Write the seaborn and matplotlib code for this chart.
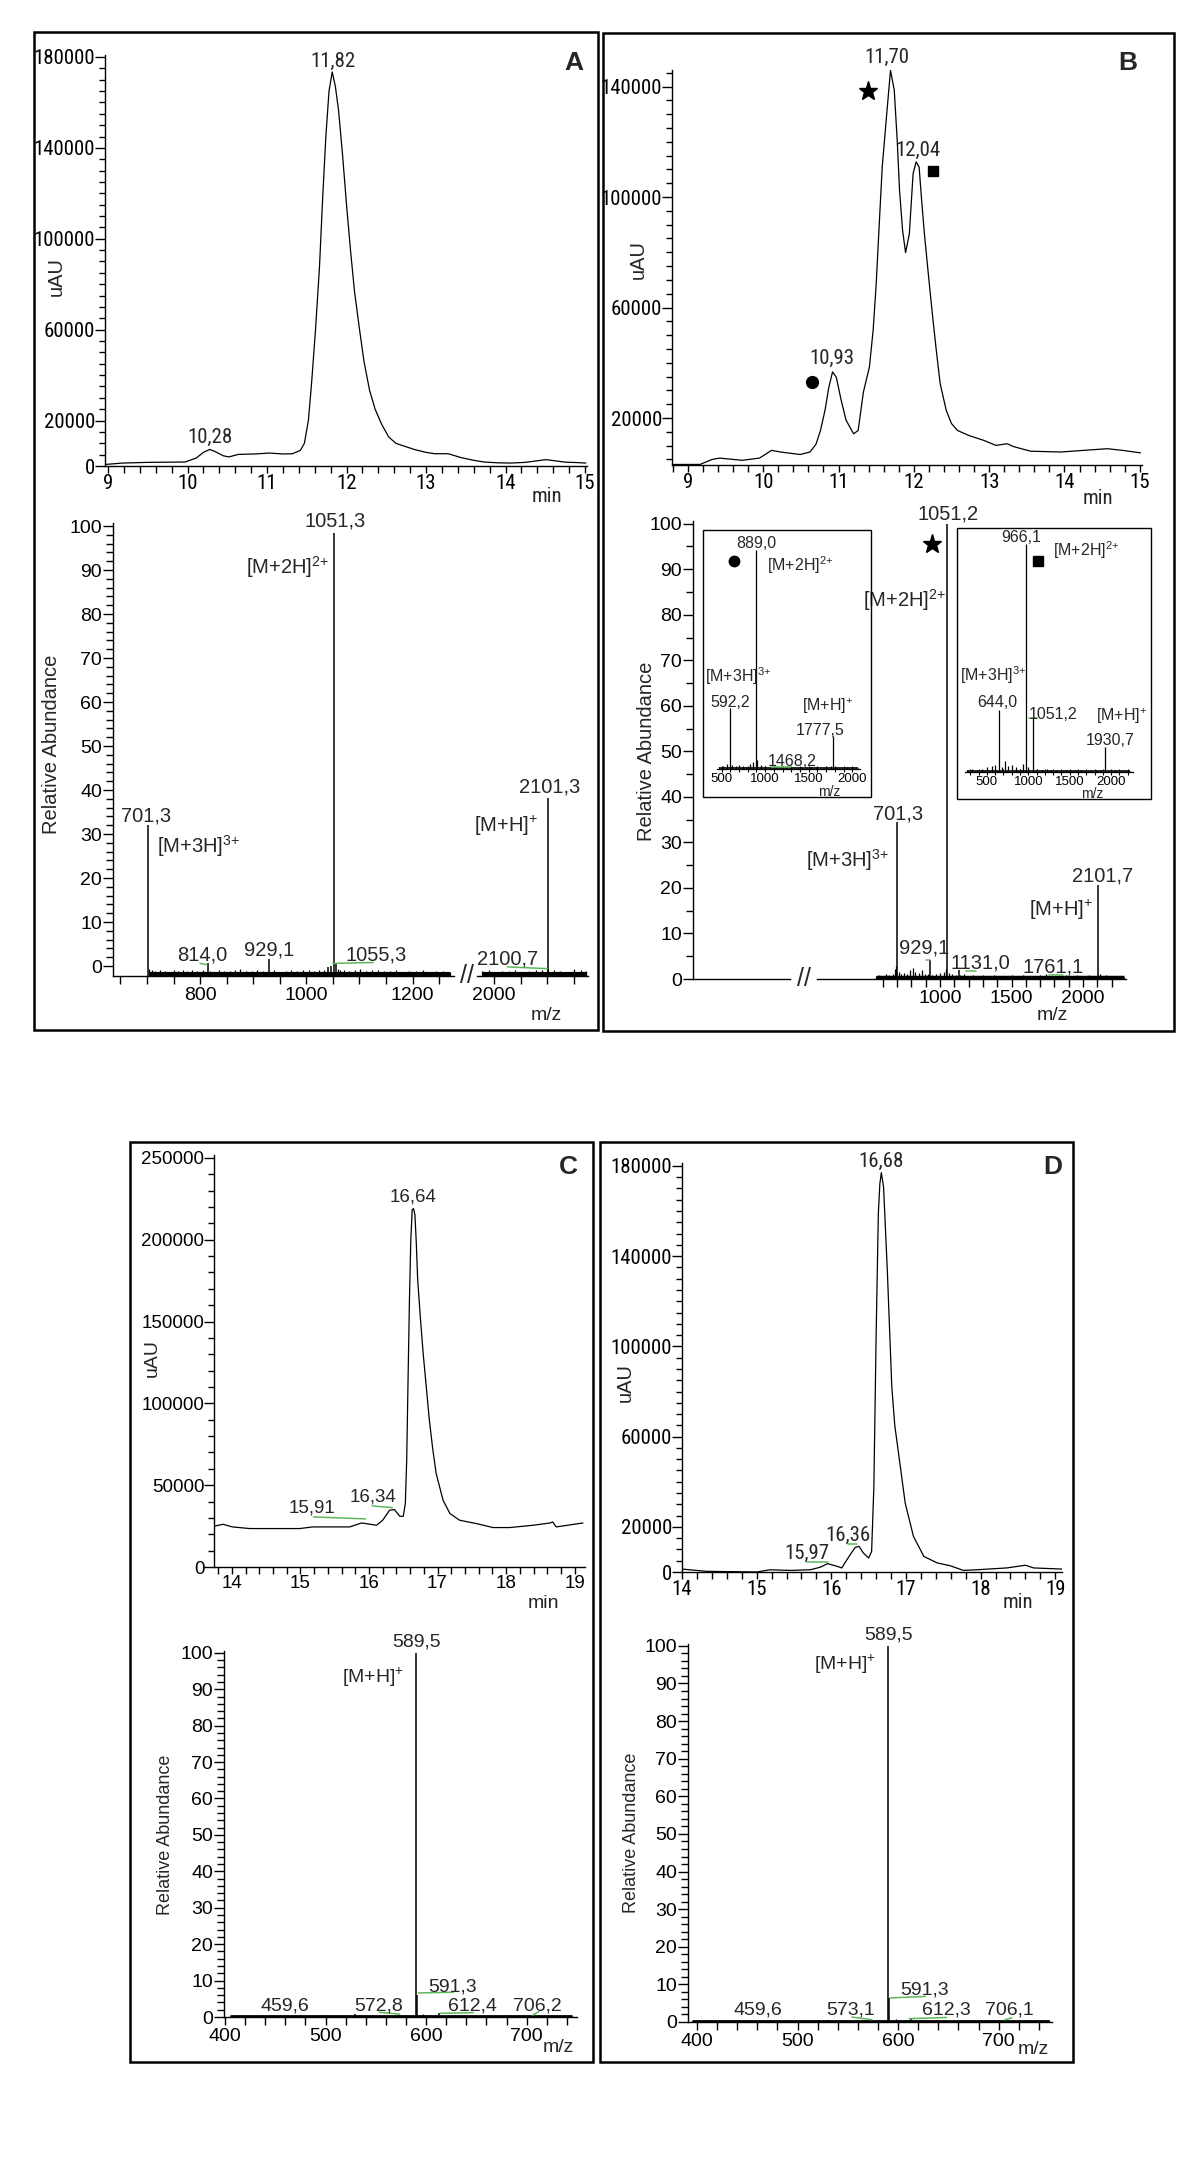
import matplotlib
matplotlib.use("Agg")
import matplotlib.pyplot as plt
from matplotlib.patches import Rectangle
from matplotlib.ticker import MultipleLocator, FixedLocator
import seaborn as sns

sns.set_style("ticks")
plt.rcParams["font.family"] = ["Liberation Sans", "DejaVu Sans"]
plt.rcParams["mathtext.default"] = "regular"
plt.rcParams["axes.linewidth"] = 1.0
plt.rcParams["axes.edgecolor"] = "black"
plt.rcParams["xtick.color"] = "black"
plt.rcParams["ytick.color"] = "black"

# narrow face for the chromatogram texts; first installed one wins
NARROW = ["Liberation Sans Narrow", "Roboto Condensed", "Noto Sans Condensed",
          "Open Sans Condensed", "DejaVu Sans Condensed", "Liberation Sans"]
REGULAR = ["Liberation Sans", "DejaVu Sans"]
GREEN = "#5cb85c"
W, H = 1200, 2159

# ion labels
M2H = "[M+2H]$^{2{+}}$"
M3H = "[M+3H]$^{3{+}}$"
MH = "[M+H]$^{{+}}$"

# ---------------- chromatograms (min, uAU) ----------------
a_time = [8.98, 9.19, 9.50, 9.97, 10.11, 10.20, 10.28, 10.35, 10.45, 10.52,
          10.64, 10.85, 11.03, 11.20, 11.32, 11.42, 11.47, 11.52, 11.56, 11.61,
          11.66, 11.70, 11.74, 11.78, 11.82, 11.86, 11.90, 11.95, 12.00, 12.05,
          12.10, 12.16, 12.22, 12.29, 12.36, 12.44, 12.53, 12.62, 12.72, 12.86,
          13.00, 13.11, 13.28, 13.44, 13.60, 13.73, 13.90, 14.07, 14.25, 14.40,
          14.51, 14.62, 14.75, 14.90, 15.01]
a_signal = [730, 1300, 1600, 1760, 3500, 6000, 7300, 6300, 4500, 4000,
            5100, 5300, 5700, 5300, 5400, 6900, 10000, 20000, 36200, 60000,
            87600, 118000, 145000, 165000, 173400, 167000, 156500, 137000, 115000, 95000,
            77000, 61000, 46000, 33300, 25000, 18500, 12800, 10000, 8800, 7200,
            6000, 5400, 5400, 3700, 2500, 1760, 1400, 1300, 1600, 2300,
            2800, 2300, 1700, 1500, 1300]

b_time = [8.80, 9.16, 9.32, 9.42, 9.72, 9.95, 10.11, 10.23, 10.49, 10.62,
          10.70, 10.76, 10.82, 10.87, 10.92, 10.97, 11.03, 11.10, 11.20, 11.26,
          11.33, 11.41, 11.46, 11.50, 11.54, 11.58, 11.64, 11.69, 11.74, 11.78,
          11.81, 11.85, 11.89, 11.94, 11.99, 12.03, 12.07, 12.10, 12.14, 12.20,
          12.25, 12.30, 12.35, 12.43, 12.50, 12.58, 12.73, 12.93, 13.09, 13.24,
          13.32, 13.55, 13.95, 14.36, 14.57, 14.77, 15.01]
b_signal = [3200, 3200, 5000, 5500, 4700, 5500, 8300, 7700, 6800, 7700,
            10500, 15500, 22800, 31000, 36700, 34800, 27000, 19200, 14300, 15500,
            29400, 38500, 52000, 68600, 90000, 110900, 130200, 145900, 138700, 120000,
            102400, 88000, 79900, 86700, 108500, 112700, 110900, 100000, 86700, 70000,
            56600, 44000, 32400, 22800, 18000, 15500, 13700, 11900, 10100, 10700,
            9700, 8000, 7700, 8500, 8900, 8300, 7400]

c_time = [13.74, 13.87, 14.01, 14.26, 14.99, 15.18, 15.72, 15.89, 15.96, 16.11,
          16.20, 16.30, 16.37, 16.45, 16.50, 16.53, 16.55, 16.57, 16.59, 16.61,
          16.63, 16.65, 16.67, 16.69, 16.71, 16.75, 16.79, 16.84, 16.88, 16.93,
          16.98, 17.08, 17.18, 17.32, 17.57, 17.81, 18.05, 18.39, 18.64, 18.68,
          18.73, 19.12]
c_signal = [24900, 26100, 24500, 23500, 23500, 24500, 24500, 26900, 26500, 25500,
            28600, 34700, 35100, 31000, 31000, 38800, 65300, 115000, 163300, 200000,
            218400, 219000, 215300, 198000, 175500, 152000, 130600, 108000, 89800, 72000,
            57100, 40800, 32700, 28600, 26500, 24100, 24100, 25500, 26900, 27500,
            24500, 26900]

d_time = [14.00, 14.33, 15.00, 15.18, 15.45, 15.72, 15.85, 15.95, 16.08, 16.14,
          16.21, 16.27, 16.32, 16.37, 16.43, 16.50, 16.54, 16.57, 16.60, 16.63,
          16.65, 16.67, 16.70, 16.75, 16.81, 16.85, 16.90, 16.99, 17.10, 17.24,
          17.42, 17.59, 17.77, 17.95, 18.35, 18.60, 18.71, 19.09]
d_signal = [1300, 300, 0, 1000, 700, 1000, 2100, 3700, 2500, 1800,
            5500, 8500, 10900, 11400, 8400, 6200, 9100, 37900, 104300, 158900,
            172000, 177000, 170600, 133800, 82200, 65000, 52700, 30500, 15800, 6900,
            4000, 2800, 700, 1000, 1800, 3000, 1800, 1300]

# ---------------- mass spectra (m/z, relative abundance) ----------------
a_peak_mz = [701.3, 814.0, 929.1, 1040.0, 1046.0, 1051.3, 1055.3, 2100.7, 2101.3]
a_peak_h = [32.0, 0.7, 1.6, -0.2, 0.0, 98.4, 0.5, -0.6, 38.2]
a_noise_mz = [704, 709, 716, 724, 733, 741, 750, 758, 767, 776,
              785, 794, 806, 818, 826, 836, 845, 856, 866, 876,
              887, 898, 908, 918, 940, 950, 961, 972, 983, 994,
              1005, 1014, 1024, 1033, 1060, 1063, 1071, 1080, 1092, 1101,
              1112, 1123, 1134, 1146, 1158, 1169, 1180, 1193, 1206, 1219,
              1232, 1245, 1258, 1270,
              1978, 1990, 2003, 2015, 2028, 2040, 2053, 2066, 2078, 2090,
              2112, 2124, 2137, 2150, 2162, 2172]
a_noise_h = [-0.6, -1.0, -1.2, -0.9, -1.1, -1.3, -1.0, -1.2, -0.8, -1.1,
             -1.0, -1.2, -0.9, -1.1, -1.3, -0.8, -1.1, -1.2, -1.0, -0.7,
             -1.1, -1.2, -0.9, -1.1, -1.0, -1.3, -1.1, -0.9, -1.2, -1.0,
             -0.8, -1.2, -1.0, -0.9, -0.6, -1.0, -0.8, -1.1, -0.9, -0.7,
             -1.2, -1.0, -0.8, -1.1, -1.2, -1.0, -1.3, -1.1, -1.2, -1.0,
             -1.3, -1.1, -1.2, -1.3,
             -1.2, -1.0, -1.3, -1.1, -1.2, -1.0, -1.3, -1.1, -0.9, -1.0,
             -0.8, -1.1, -1.3, -0.7, -1.0, -1.2]

b_peak_mz = [701.3, 929.1, 1051.2, 1131.0, 1761.1, 2101.7]
b_peak_h = [34.4, 4.2, 100.0, 1.9, 0.7, 20.7]
b_noise_mz = [552, 575, 598, 620, 645, 668, 688, 695, 712, 730,
              748, 770, 790, 812, 826, 850, 872, 898, 915, 945,
              975, 1000, 1030, 1042, 1060, 1085, 1110, 1140, 1165, 1195,
              1230, 1265, 1300, 1340, 1380, 1420, 1460, 1500, 1540, 1580,
              1620, 1660, 1700, 1740, 1800, 1840, 1880, 1920, 1960, 2000,
              2040, 2080, 2120, 2160, 2200, 2240, 2285]
b_noise_h = [0.6, 0.9, 0.7, 1.0, 0.8, 1.2, 2.3, 2.8, 1.6, 1.1,
             1.4, 1.0, 2.0, 2.4, 1.5, 1.3, 1.9, 1.2, 1.0, 0.9,
             1.1, 1.3, 1.6, 2.2, 1.4, 1.0, 0.8, 0.9, 1.1, 0.7,
             0.8, 0.6, 0.9, 0.7, 0.8, 0.6, 0.7, 0.9, 0.6, 0.8,
             0.7, 0.6, 0.8, 1.0, 0.7, 0.6, 0.8, 0.7, 0.9, 0.6,
             0.8, 0.7, 1.2, 0.8, 0.6, 0.7, 0.5]

ins1_peak_mz = [592.2, 889.0, 1468.2, 1777.5]
ins1_peak_h = [28.0, 100.0, 0.8, 15.0]
ins1_noise_mz = [470, 520, 560, 620, 660, 700, 740, 780, 820, 860,
                 910, 950, 1000, 1060, 1120, 1180, 1240, 1300, 1360, 1420,
                 1520, 1580, 1640, 1700, 1760, 1820, 1880, 1940, 2000, 2060]
ins1_noise_h = [1.0, 1.5, 2.5, 1.8, 1.2, 2.0, 1.5, 1.0, 2.2, 3.0,
                4.0, 2.0, 1.2, 1.0, 0.8, 1.0, 0.7, 0.8, 0.6, 0.9,
                0.7, 0.8, 0.6, 0.7, 1.5, 1.0, 0.6, 0.7, 0.5, 0.6]

ins2_peak_mz = [644.0, 966.1, 1051.2, 1930.7]
ins2_peak_h = [27.0, 100.0, 24.0, 11.0]
ins2_noise_mz = [260, 320, 380, 440, 500, 560, 600, 680, 720, 760,
                 800, 850, 900, 940, 1000, 1100, 1160, 1220, 1280, 1340,
                 1400, 1460, 1520, 1580, 1640, 1700, 1760, 1820, 1880, 1990,
                 2050, 2110, 2170, 2230]
ins2_noise_h = [0.8, 1.2, 1.0, 1.5, 2.0, 2.5, 3.0, 2.2, 5.0, 2.5,
                3.0, 2.0, 1.5, 3.5, 2.0, 1.5, 1.0, 1.2, 0.8, 1.0,
                0.7, 0.9, 0.6, 0.8, 0.7, 0.6, 0.8, 0.7, 0.9, 0.6,
                0.7, 0.5, 0.6, 0.5]

c_peak_mz = [459.6, 529.0, 572.8, 589.5, 591.3, 612.4, 706.2]
c_peak_h = [0.3, 0.8, 0.5, 100.0, 6.1, 1.2, 0.3]
c_noise_mz = [405, 418, 432, 447, 470, 485, 500, 515, 540, 555,
              565, 580, 597, 605, 620, 635, 650, 665, 680, 695,
              715, 730, 745]
c_noise_h = [0.4, 0.3, 0.5, 0.3, 0.4, 0.3, 0.5, 0.4, 0.3, 0.4,
             0.5, 0.6, 0.8, 0.5, 0.4, 0.5, 0.3, 0.4, 0.5, 0.3,
             0.4, 0.5, 0.3]

d_peak_mz = [459.6, 530.0, 573.1, 589.5, 591.3, 612.3, 706.1]
d_peak_h = [0.3, 0.6, 0.8, 100.0, 6.4, 1.0, 0.3]
d_noise_mz = [395, 410, 425, 440, 455, 470, 488, 505, 520, 538,
              552, 565, 580, 598, 608, 622, 638, 655, 670, 688,
              700, 720, 735, 750]
d_noise_h = [0.3, 0.4, 0.3, 0.5, 0.3, 0.4, 0.3, 0.5, 0.4, 0.3,
             0.4, 0.6, 0.5, 0.9, 0.6, 0.4, 0.5, 0.3, 0.4, 0.3,
             0.5, 0.4, 0.3, 0.4]

fig = plt.figure(figsize=(12, 21.59), dpi=100)


def add_ax(x0, y0, x1, y1):
    ax = fig.add_axes([x0 / W, 1 - y1 / H, (x1 - x0) / W, (y1 - y0) / H])
    ax.patch.set_visible(False)
    return ax


def fig_text(x, y, s, **kw):
    kw.setdefault("ha", "center")
    kw.setdefault("va", "center")
    fig.text(x / W, 1 - y / H, s, **kw)


def frame(x0, y0, x1, y1, lw=1.8):
    fig.add_artist(Rectangle((x0 / W, 1 - y1 / H), (x1 - x0) / W, (y1 - y0) / H,
                             transform=fig.transFigure, fill=False, lw=lw,
                             edgecolor="black"))


def label(ax, x, y, s, font=REGULAR, fs=14.5, ha="center"):
    ax.text(x, y, s, ha=ha, va="center", fontfamily=font, fontsize=fs,
            fontstretch="condensed" if font is NARROW else "normal", clip_on=False)


def green(ax, x0, x1, y0, y1):
    ax.plot([x0, x1], [y0, y1], color=GREEN, lw=1.1, clip_on=False)


def set_labels(ax, font, fs):
    for lab in ax.get_xticklabels() + ax.get_yticklabels():
        lab.set_fontfamily(font)
        lab.set_fontsize(fs)
        if font is NARROW:
            lab.set_fontstretch("condensed")


def chromatogram(box, t, s, xlim, ylim, yticks, yminor, font, fs):
    ax = add_ax(*box)
    sns.lineplot(x=t, y=s, ax=ax, color="black", linewidth=0.9, estimator=None)
    ax.set_xlim(xlim)
    ax.set_ylim(ylim)
    sns.despine(ax=ax)
    xt = [v for v in range(9, 20) if xlim[0] - 0.01 <= v <= xlim[1] + 0.01]
    ax.xaxis.set_major_locator(FixedLocator(xt))
    ax.set_xticklabels([str(v) for v in xt])
    ax.yaxis.set_major_locator(FixedLocator(yticks))
    ax.set_yticklabels([str(v) for v in yticks])
    ax.xaxis.set_minor_locator(MultipleLocator(0.2))
    ax.yaxis.set_minor_locator(MultipleLocator(yminor))
    ax.tick_params(axis="x", which="both", direction="out", length=5, width=1, pad=1)
    ax.tick_params(axis="y", which="major", direction="out", length=7, width=1, pad=0)
    ax.tick_params(axis="y", which="minor", direction="out", length=4, width=1)
    ax.set_xlabel("")
    ax.set_ylabel("")
    set_labels(ax, font, fs)
    return ax


def spectrum(ax, peak_mz, peak_h, noise_mz, noise_h, base, band_y, band_lw, lw=1.1):
    lo, hi = ax.get_xlim()
    ax.vlines(noise_mz, base, noise_h, color="black", lw=0.9)
    ax.vlines(peak_mz, base, peak_h, color="black", lw=lw)
    inside = [m for m in noise_mz if lo <= m <= hi]
    if inside:
        ax.hlines(band_y, min(inside), max(inside), color="black", lw=band_lw)


def ms_yaxis(ax, ylim, minor):
    ax.set_ylim(ylim)
    ax.yaxis.set_major_locator(FixedLocator(list(range(0, 101, 10))))
    ax.set_yticklabels([str(v) for v in range(0, 101, 10)])
    ax.yaxis.set_minor_locator(FixedLocator([v for v in range(minor, 100, minor) if v % 10]))
    ax.tick_params(axis="y", which="major", direction="out", length=7, width=1, pad=1)
    ax.tick_params(axis="y", which="minor", direction="out", length=5, width=1)


def ms_xaxis(ax, ticks, labelled, minor=None):
    ax.xaxis.set_major_locator(FixedLocator(ticks))
    ax.set_xticklabels([str(v) if v in labelled else "" for v in ticks])
    if minor is not None:
        ax.xaxis.set_minor_locator(MultipleLocator(minor))
    ax.tick_params(axis="x", which="both", direction="out", length=6, width=1, pad=2)


# ======================= PANEL A =======================
frame(34, 32, 598, 1030)
ax = chromatogram((105, 55, 587, 466), a_time, a_signal, (8.962, 15.025), (0, 180880),
                  [0, 20000, 60000, 100000, 140000, 180000], 5000, NARROW, 15)
label(ax, 11.83, 178200, "11,82", NARROW, 15)
label(ax, 10.28, 12760, "10,28", NARROW, 15)
fig_text(574, 63, "A", fontsize=19, fontweight="bold")
fig_text(56, 277, "uAU", fontsize=14.5, rotation=90)
fig_text(547, 497, "min", fontsize=15, fontfamily=NARROW, fontstretch="condensed")

ax_l = add_ax(113, 523, 454, 976)
ax_l.set_xlim(636, 1278)
ms_yaxis(ax_l, (-2.27, 100.7), 2)
spectrum(ax_l, a_peak_mz, a_peak_h, a_noise_mz, a_noise_h, -2.27, -1.8, 3)
sns.despine(ax=ax_l)
ms_xaxis(ax_l, list(range(650, 1251, 50)), (800, 1000, 1200))
set_labels(ax_l, REGULAR, 14)
label(ax_l, 1055, 101.1, "1051,3")
label(ax_l, 1043, 90.6, M2H, ha="right")
label(ax_l, 698, 34.1, "701,3")
label(ax_l, 719, 27.3, M3H, ha="left")
label(ax_l, 804, 2.6, "814,0")
label(ax_l, 929, 3.6, "929,1")
label(ax_l, 1131, 2.6, "1055,3")
green(ax_l, 800, 813, 0.6, 0.3)
green(ax_l, 1050, 1126, 0.6, 0.8)

ax_r = add_ax(477, 523, 588, 976)
ax_r.set_xlim(1968, 2176)
ax_r.set_ylim(-2.27, 100.7)
spectrum(ax_r, a_peak_mz, a_peak_h, a_noise_mz, a_noise_h, -2.27, -1.8, 3)
sns.despine(ax=ax_r, left=True)
ax_r.set_yticks([])
ms_xaxis(ax_r, [2000, 2050, 2100, 2150], (2000,))
set_labels(ax_r, REGULAR, 14)
label(ax_r, 2104, 40.7, "2101,3")
label(ax_r, 2083, 31.8, MH, ha="right")
label(ax_r, 2026, 1.6, "2100,7")
green(ax_r, 2025, 2100, -0.2, -0.6)
fig_text(467, 976, "//", fontsize=18)
fig_text(546, 1016, "m/z", fontsize=14)
fig_text(52, 744, "Relative Abundance", fontsize=14.5, rotation=90)

# ======================= PANEL B =======================
frame(603, 33, 1174, 1031)
ax = chromatogram((672, 70, 1142, 465), b_time, b_signal, (8.788, 15.03), (3000, 146000),
                  [20000, 60000, 100000, 140000], 5000, NARROW, 15)
label(ax, 11.64, 150700, "11,70", NARROW, 15)
label(ax, 12.05, 117000, "12,04", NARROW, 15)
label(ax, 10.91, 41700, "10,93", NARROW, 15)
ax.plot(11.39, 138400, marker="*", color="black", ms=14, ls="none", clip_on=False)
ax.plot(12.25, 109400, marker="s", color="black", ms=7.5, ls="none", clip_on=False)
ax.plot(10.65, 33000, marker="o", color="black", ms=8.5, ls="none", clip_on=False)
fig_text(1128, 63, "B", fontsize=19, fontweight="bold")
fig_text(638, 260, "uAU", fontsize=14.5, rotation=90)
fig_text(1098, 498, "min", fontsize=15, fontfamily=NARROW, fontstretch="condensed")

ax_l = add_ax(693, 521, 790, 979)
ax_l.set_xlim(0, 1)
ms_yaxis(ax_l, (0, 100.6), 5)
sns.despine(ax=ax_l)
ax_l.set_xticks([])
set_labels(ax_l, REGULAR, 14)

ax_r = add_ax(817, 521, 1126, 979)
ax_r.set_xlim(140, 2300)
ax_r.set_ylim(0, 100.6)
spectrum(ax_r, b_peak_mz, b_peak_h, b_noise_mz, b_noise_h, 0, 0.4, 2.5)
sns.despine(ax=ax_r, left=True)
ax_r.set_yticks([])
ms_xaxis(ax_r, list(range(600, 2201, 100)), (1000, 1500, 2000))
set_labels(ax_r, REGULAR, 14)
label(ax_r, 1056, 102.2, "1051,2")
ax_r.plot(944, 95.6, marker="*", color="black", ms=14, ls="none", clip_on=False)
label(ax_r, 1042, 83.3, M2H, ha="right")
label(ax_r, 706, 36.3, "701,3")
label(ax_r, 643, 26.2, M3H, ha="right")
label(ax_r, 888, 6.8, "929,1")
label(ax_r, 1280, 3.6, "1131,0")
label(ax_r, 1793, 2.6, "1761,1")
label(ax_r, 2133, 22.6, "2101,7")
label(ax_r, 2070, 15.2, MH, ha="right")
green(ax_r, 905, 930, 4.1, 4.1)
green(ax_r, 1180, 1250, 1.8, 1.8)
green(ax_r, 1760, 1860, 0.9, 0.9)
fig_text(804, 979, "//", fontsize=18)
fig_text(1052, 1016, "m/z", fontsize=14)
fig_text(646, 751, "Relative Abundance", fontsize=14.5, rotation=90)

# insets of panel B
for box in [(703, 530, 871, 797), (957, 528, 1151, 799)]:
    frame(*box, lw=1.0)


def inset(box, xlim, peak_mz, peak_h, noise_mz, noise_h):
    ax = add_ax(*box)
    ax.set_xlim(xlim)
    ax.set_ylim(0, 103)
    spectrum(ax, peak_mz, peak_h, noise_mz, noise_h, 0, 0.5, 1.2, lw=0.9)
    sns.despine(ax=ax, left=True)
    ax.set_yticks([])
    ax.xaxis.set_major_locator(FixedLocator([500, 1000, 1500, 2000]))
    ax.set_xticklabels(["500", "1000", "1500", "2000"])
    ax.xaxis.set_minor_locator(MultipleLocator(100))
    ax.tick_params(axis="x", which="both", direction="inout", length=4, width=0.8, pad=1)
    ax.spines["bottom"].set_linewidth(0.9)
    set_labels(ax, REGULAR, 9.5)
    return ax


ax = inset((717, 543, 860, 769), (447, 2088), ins1_peak_mz, ins1_peak_h, ins1_noise_mz, ins1_noise_h)
label(ax, 895, 102.7, "889,0", fs=11.5)
ax.plot(642, 95, marker="o", color="black", ms=7.5, ls="none", clip_on=False)
label(ax, 1021, 92.7, M2H, fs=11.5, ha="left")
label(ax, 309, 42.5, M3H, fs=11.5, ha="left")
label(ax, 596, 30.1, "592,2", fs=11.5)
label(ax, 1711, 28.8, MH, fs=11.5)
label(ax, 1631, 17.4, "1777,5", fs=11.5)
label(ax, 1308, 3.6, "1468,2", fs=11.5)
green(ax, 1070, 1300, 1.0, 1.0)
fig_text(829, 792, "m/z", fontsize=10)

ax = inset((965, 537, 1133, 772), (235, 2265), ins2_peak_mz, ins2_peak_h, ins2_noise_mz, ins2_noise_h)
label(ax, 911, 102.6, "966,1", fs=11.5)
ax.plot(1117, 92.5, marker="s", color="black", ms=7.5, ls="none", clip_on=False)
label(ax, 1298, 97.4, M2H, fs=11.5, ha="left")
label(ax, 175, 42.5, M3H, fs=11.5, ha="left")
label(ax, 620, 30.3, "644,0", fs=11.5)
label(ax, 1298, 25.4, "1051,2", fs=11.5)
label(ax, 2133, 24.6, MH, fs=11.5)
label(ax, 1988, 13.6, "1930,7", fs=11.5)
green(ax, 1005, 1100, 23.5, 23.5)
fig_text(1092, 794, "m/z", fontsize=10)

# ======================= PANEL C =======================
frame(130, 1142, 593, 2062)
ax = chromatogram((214, 1155, 585, 1567), c_time, c_signal, (13.74, 19.15), (0, 251800),
                  [0, 50000, 100000, 150000, 200000, 250000], 10000, REGULAR, 13.5)
label(ax, 16.64, 226200, "16,64", REGULAR, 13.5)
label(ax, 16.06, 42800, "16,34", REGULAR, 13.5)
label(ax, 15.17, 36000, "15,91", REGULAR, 13.5)
green(ax, 15.19, 15.95, 30600, 29400)
green(ax, 16.05, 16.34, 37300, 36300)
fig_text(568, 1167, "C", fontsize=19, fontweight="bold")
fig_text(152, 1358, "uAU", fontsize=14, rotation=90)
fig_text(543, 1603, "min", fontsize=14)

ax = add_ax(224, 1651, 577, 2017)
ax.set_xlim(399, 750)
ms_yaxis(ax, (0, 100.5), 2)
spectrum(ax, c_peak_mz, c_peak_h, c_noise_mz, c_noise_h, 0, 0.3, 2)
sns.despine(ax=ax)
ms_xaxis(ax, [400, 500, 600, 700], (400, 500, 600, 700), minor=20)
set_labels(ax, REGULAR, 14)
label(ax, 590, 103, "589,5", fs=14)
label(ax, 578, 93.4, MH, fs=14, ha="right")
label(ax, 626, 8.2, "591,3", fs=14)
label(ax, 460, 3.0, "459,6", fs=14)
label(ax, 553, 3.0, "572,8", fs=14)
label(ax, 646, 3.0, "612,4", fs=14)
label(ax, 711, 3.0, "706,2", fs=14)
green(ax, 592.5, 627, 6.6, 6.8)
green(ax, 553.5, 573.5, 1.3, 0.8)
green(ax, 614, 647, 1.0, 1.2)
green(ax, 706, 712, 0.5, 1.5)
fig_text(558, 2048, "m/z", fontsize=14)
fig_text(166, 1835, "Relative Abundance", fontsize=13, rotation=90)

# ======================= PANEL D =======================
frame(600, 1142, 1073, 2062)
ax = chromatogram((682, 1163, 1062, 1572), d_time, d_signal, (14.0, 19.09), (0, 181300),
                  [0, 20000, 60000, 100000, 140000, 180000], 5000, NARROW, 15)
label(ax, 16.66, 182200, "16,68", NARROW, 15)
label(ax, 16.22, 16400, "16,36", NARROW, 15)
label(ax, 15.67, 8400, "15,97", NARROW, 15)
green(ax, 15.67, 15.95, 4400, 4400)
green(ax, 16.22, 16.34, 12400, 12400)
fig_text(1053, 1167, "D", fontsize=19, fontweight="bold")
fig_text(625, 1383, "uAU", fontsize=14.5, rotation=90)
fig_text(1018, 1602, "min", fontsize=15, fontfamily=NARROW, fontstretch="condensed")

ax = add_ax(688, 1644, 1052, 2022)
ax.set_xlim(391, 753)
ms_yaxis(ax, (0, 100.5), 2)
spectrum(ax, d_peak_mz, d_peak_h, d_noise_mz, d_noise_h, 0, 0.3, 2)
sns.despine(ax=ax)
ms_xaxis(ax, [400, 500, 600, 700], (400, 500, 600, 700), minor=20)
set_labels(ax, REGULAR, 14)
label(ax, 590, 103, "589,5", fs=14)
label(ax, 578, 95, MH, fs=14, ha="right")
label(ax, 626, 8.5, "591,3", fs=14)
label(ax, 460, 3.2, "459,6", fs=14)
label(ax, 553, 3.2, "573,1", fs=14)
label(ax, 648, 3.2, "612,3", fs=14)
label(ax, 711, 3.2, "706,1", fs=14)
green(ax, 592, 627, 6.4, 6.8)
green(ax, 554, 574, 1.3, 0.6)
green(ax, 611, 648, 0.9, 1.2)
green(ax, 706, 713, 0.6, 1.1)
fig_text(1033, 2050, "m/z", fontsize=14)
fig_text(631, 1833, "Relative Abundance", fontsize=13, rotation=90)

fig.savefig("out.png", dpi=100, facecolor="white")
